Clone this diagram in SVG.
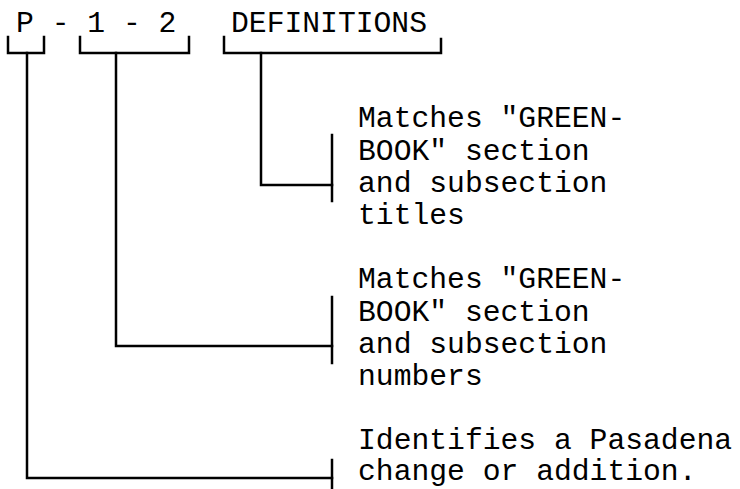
<svg xmlns="http://www.w3.org/2000/svg" width="740" height="489" viewBox="0 0 740 489">
<style>
.t{font-family:"Liberation Mono","Courier New",monospace;font-size:29.7px;fill:#000}
.l{fill:none;stroke:#000;stroke-width:2.5;stroke-linecap:square;stroke-linejoin:miter}
</style>
<rect width="740" height="489" fill="#fff"/>
<g id="code">
<text class="t" x="16" y="32">P - 1 - 2</text>
<text class="t" x="231" y="32">DEFINITIONS</text>
</g>
<g id="note-titles">
<text class="t" x="358" y="127">Matches "GREEN-</text>
<text class="t" x="358" y="159.5">BOOK" section</text>
<text class="t" x="358" y="192">and subsection</text>
<text class="t" x="358" y="224">titles</text>
</g>
<g id="note-numbers">
<text class="t" x="358" y="288">Matches "GREEN-</text>
<text class="t" x="358" y="320.5">BOOK" section</text>
<text class="t" x="358" y="353">and subsection</text>
<text class="t" x="358" y="385">numbers</text>
</g>
<g id="note-pasadena">
<text class="t" x="358" y="449">Identifies a Pasadena</text>
<text class="t" x="358" y="480">change or addition.</text>
</g>
<g id="connectors">
<path class="l" d="M8,37 V53 H44 V37"/>
<path class="l" d="M80,37 V53 H189 V37"/>
<path class="l" d="M224,37 V53 H441 V39"/>
<path class="l" d="M261,53 V185 H332"/>
<path class="l" d="M332,135 V201"/>
<path class="l" d="M116,53 V346 H332"/>
<path class="l" d="M332,297 V363"/>
<path class="l" d="M27,53 V478 H332"/>
<path class="l" d="M332,460 V492"/>
</g>
</svg>
